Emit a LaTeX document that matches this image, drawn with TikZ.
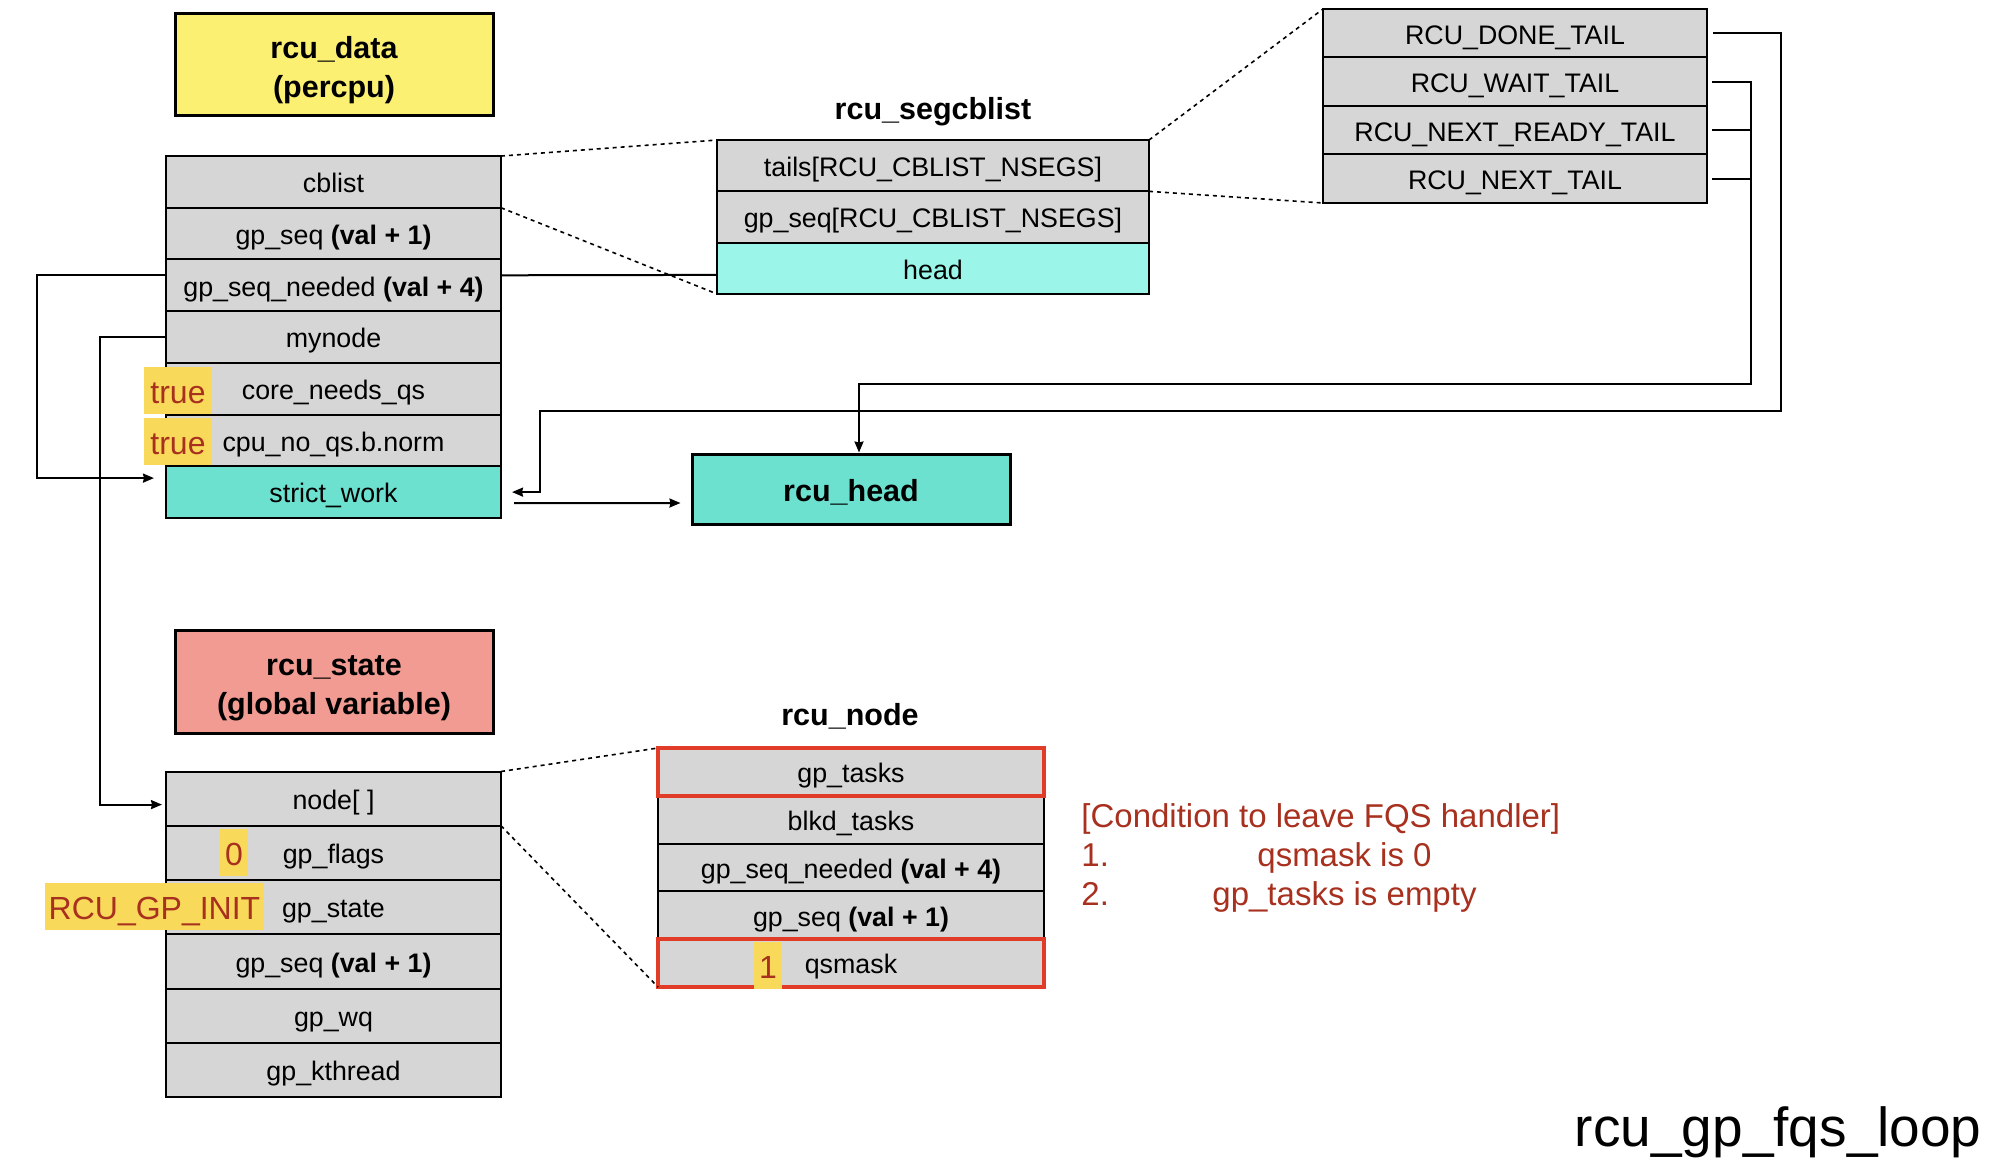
\documentclass[tikz,border=0pt]{standalone}
\usepackage{fontspec}
\setmainfont{Liberation Sans}
\usetikzlibrary{calc,arrows.meta}

\definecolor{datayel}{HTML}{FCF073}
\definecolor{rowgray}{HTML}{D6D6D6}
\definecolor{headcyan}{HTML}{9BF6E9}
\definecolor{workteal}{HTML}{6CE1D0}
\definecolor{statesal}{HTML}{F19B92}
\definecolor{hlyel}{HTML}{F8D95A}
\definecolor{txtred}{HTML}{A8301F}
\definecolor{borderred}{HTML}{E03C28}

\tikzset{
  fld/.style={draw,line width=1pt,fill=rowgray,inner sep=0pt,outer sep=0pt,text height=13pt,text depth=2.2pt,font=\fontsize{13.4}{16}\selectfont},
  datarow/.style={fld,minimum width=167.5pt,minimum height=25.85pt},
  segrow/.style={fld,minimum width=216pt,minimum height=25.65pt},
  tailrow/.style={fld,minimum width=192pt,minimum height=24.25pt},
  staterow/.style={fld,minimum width=167.5pt,minimum height=27.1pt},
  noderow/.style={fld,minimum width=193pt,minimum height=23.9pt},
  hotrow/.style={noderow,draw=borderred,line width=2pt},
  titlebox/.style={draw,line width=1.5pt,align=center,minimum width=159pt,text height=35.7pt,text depth=3.2pt,font=\bfseries\fontsize{15.25}{19.5}\selectfont},
  title/.style={font=\bfseries\fontsize{15.25}{18}\selectfont},
  flag/.style={fill=hlyel,text=txtred,inner xsep=2pt,inner ysep=0pt,minimum width=14pt,minimum height=23.5pt,text height=15.2pt,text depth=2.2pt,font=\fontsize{16}{19}\selectfont},
  cond/.style={text=txtred,inner sep=0pt,font=\fontsize{16.5}{20}\selectfont},
  link/.style={line width=1pt},
  zoomline/.style={line width=0.8pt,dash pattern=on 2pt off 2pt},
}

\begin{document}
\begin{tikzpicture}[x=0.5pt,y=-0.5pt]
    \useasboundingbox (0,0) rectangle (2004,1172);

    % rcu_data and its fields
    \node[titlebox,fill=datayel,minimum height=51pt] (tdata) at (334,65) {rcu\_data\\(percpu)};
    \node[datarow] (dcb) at (333.5,181.9) {cblist};
    \node[datarow] (dseq) at (333.5,233.6) {gp\_seq \textbf{(val + 1)}};
    \node[datarow] (dneed) at (333.5,285.3) {gp\_seq\_needed \textbf{(val + 4)}};
    \node[datarow] (dnode) at (333.5,337.0) {mynode};
    \node[datarow] (dqs) at (333.5,388.7) {core\_needs\_qs};
    \node[datarow] (dnorm) at (333.5,440.4) {cpu\_no\_qs.b.norm};
    \node[datarow,fill=workteal] (dwork) at (333.5,492.1) {strict\_work};
    \node[flag,minimum width=34pt] (ftrueqs) at (178,390) {true};
    \node[flag,minimum width=34pt] (ftruenorm) at (178,441.5) {true};

    % rcu_segcblist
    \node[title] (tseg) at (933,112) {rcu\_segcblist};
    \node[segrow] (stails) at (933,165.7) {tails[RCU\_CBLIST\_NSEGS]};
    \node[segrow] (sseq) at (933,217) {gp\_seq[RCU\_CBLIST\_NSEGS]};
    \node[segrow,fill=headcyan] (shead) at (933,268.3) {head};

    % the tails array
    \node[tailrow] (tdone) at (1515,33.25) {RCU\_DONE\_TAIL};
    \node[tailrow] (twait) at (1515,81.75) {RCU\_WAIT\_TAIL};
    \node[tailrow] (tready) at (1515,130.25) {RCU\_NEXT\_READY\_TAIL};
    \node[tailrow] (tnext) at (1515,178.75) {RCU\_NEXT\_TAIL};

    % rcu_head
    \node[draw,line width=1.5pt,fill=workteal,minimum width=159pt,minimum height=35pt,inner sep=0pt,text height=14.4pt,text depth=2.2pt,font=\bfseries\fontsize{15.25}{18}\selectfont] (rhead) at (851,489) {rcu\_head};

    % rcu_state and its fields
    \node[titlebox,fill=statesal,minimum height=51.5pt] (tstate) at (334,681.5) {rcu\_state\\(global variable)};
    \node[staterow] (snode) at (333.5,798.6) {node[ ]};
    \node[staterow] (sflags) at (333.5,852.9) {gp\_flags};
    \node[staterow] (sstate) at (333.5,907.1) {gp\_state};
    \node[staterow] (sgpseq) at (333.5,961.4) {gp\_seq \textbf{(val + 1)}};
    \node[staterow] (swq) at (333.5,1015.6) {gp\_wq};
    \node[staterow] (skthread) at (333.5,1069.9) {gp\_kthread};
    \node[flag] (fzero) at (234,852) {0};
    \node[flag] (finit) at (154.5,906.5) {RCU\_GP\_INIT};

    % rcu_node
    \node[title] (tnd) at (850,716.5) {rcu\_node};
    \node[noderow] (nblkd) at (851,819.7) {blkd\_tasks};
    \node[noderow] (nneed) at (851,867.5) {gp\_seq\_needed \textbf{(val + 4)}};
    \node[noderow] (nseq) at (851,915.3) {gp\_seq \textbf{(val + 1)}};
    \node[hotrow] (ngp) at (851,771.9) {gp\_tasks};
    \node[hotrow] (nqs) at (851,963.1) {qsmask};
    \node[flag] (fone) at (768,965.5) {1};

    % condition to leave the handler
    \node[cond,anchor=base west] (chead) at (1081,827) {[Condition to leave FQS handler]};
    \node[cond,anchor=base west] (cone) at (1081,866) {1.};
    \node[cond,anchor=base] (cmask) at (1344.5,866) {qsmask is 0};
    \node[cond,anchor=base west] (ctwo) at (1081,905) {2.};
    \node[cond,anchor=base] (cempty) at (1344.5,905) {gp\_tasks is empty};

    \node[anchor=base east,inner sep=0pt,font=\fontsize{27.5}{32}\selectfont] (tloop) at (1982,1146) {rcu\_gp\_fqs\_loop};

    % dotted zoom lines
    \draw[zoomline] (dcb.north east) -- (stails.north west);
    \draw[zoomline] (dcb.south east) -- (shead.south west);
    \draw[zoomline] (stails.north east) -- (tdone.north west);
    \draw[zoomline] (stails.south east) -- (tnext.south west);
    \draw[zoomline] (snode.north east) -- (ngp.north west);
    \draw[zoomline] (sflags.north east) -- (nqs.south west);

    % pointers
    \draw[link,-{Stealth[length=5.5pt,width=4.5pt,inset=0.5pt]}] ([yshift=5pt]dneed.west) -- ++(-129,0) |- ([xshift=-6pt,yshift=7pt]dwork.west);
    \draw[link] ([yshift=5pt]dneed.east) -- ([yshift=-3.3pt]shead.west);
    \draw[link,-{Stealth[length=5.5pt,width=4.5pt,inset=0.5pt]}] (dnode.west) -- ++(-66,0) |- ([xshift=-2pt,yshift=-3pt]snode.west);
    \draw[link,-{Stealth[length=5.5pt,width=4.5pt,inset=0.5pt]}] ([xshift=3pt]tdone.east) -- ++(68,0) -- ++(0,377.75) -- ++(-1241,0) |- ([xshift=5.5pt]dwork.east);
    \draw[link] ([xshift=2.5pt]tready.east) -- ++(39,0);
    \draw[link] ([xshift=2.5pt]tnext.east) -- ++(39,0);
    \draw[link,-{Stealth[length=5.5pt,width=4.5pt,inset=0.5pt]}] ([xshift=2.5pt]twait.east) -- ++(39,0) -- ++(0,302.25) -| ([xshift=4pt]rhead.north);
    \draw[link,-{Stealth[length=5.5pt,width=4.5pt,inset=0.5pt]}] ([xshift=6.5pt,yshift=-5.5pt]dwork.east) -- ([xshift=-5pt,yshift=-7pt]rhead.west);

\end{tikzpicture}
\end{document}
